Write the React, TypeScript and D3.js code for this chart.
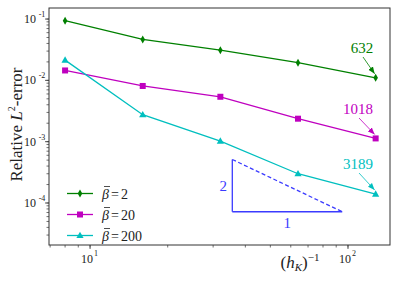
import React from "react";
import * as d3 from "d3";

const hInv = [8, 16, 32, 64, 128];
const errBeta2 = [0.094, 0.0465, 0.031, 0.0194, 0.011];
const errBeta20 = [0.0145, 0.0081, 0.0054, 0.00237, 0.00113];
const errBeta200 = [0.0214, 0.00275, 0.00102, 0.0003, 0.00014];
const seriesNames = ["2", "20", "200"];
const annotations = ["632", "1018", "3189"];
const triX = [35.6, 95];
const triYBottom = 0.000072;
const triSlope = 2;

const W = 399, H = 285;
const M = { left: 49, right: 390, top: 8, bottom: 245 };
const SERIF = "'Liberation Serif', 'Times New Roman', 'DejaVu Serif', serif";

export default function App() {
  const x = d3.scaleLog().domain([6.93, 145.5]).range([M.left, M.right]);
  const y = d3.scaleLog().domain([10 ** -4.685, 10 ** -0.82]).range([M.bottom, M.top]);
  const series = [
    { vals: errBeta2, color: "#008000", marker: "diamond" },
    { vals: errBeta20, color: "#bf00bf", marker: "square" },
    { vals: errBeta200, color: "#00bfbf", marker: "triangle" },
  ];
  const line = d3.line<number>().x((_, i) => x(hInv[i])).y((d) => y(d));
  const marker = (type: string, cx: number, cy: number, color: string, key: any) => {
    if (type === "diamond")
      return <path key={key} d={`M${cx},${cy - 4} L${cx + 2.3},${cy} L${cx},${cy + 4} L${cx - 2.3},${cy} Z`} fill={color} />;
    if (type === "square")
      return <rect key={key} x={cx - 3} y={cy - 3} width={6} height={6} fill={color} />;
    return <path key={key} d={`M${cx},${cy - 3.8} L${cx + 3.6},${cy + 2.6} L${cx - 3.6},${cy + 2.6} Z`} fill={color} />;
  };

  const xMinor: number[] = [];
  for (const dec of [1, 10, 100]) for (let k = 1; k <= 9; k++) { const v = k * dec; if (v >= 6.93 && v <= 145.5) xMinor.push(v); }
  const yMinor: number[] = [];
  for (const dec of [1e-5, 1e-4, 1e-3, 1e-2, 1e-1]) for (let k = 1; k <= 9; k++) { const v = k * dec; if (v >= 10 ** -4.685 && v <= 10 ** -0.82) yMinor.push(v); }
  const xMajor = [10, 100];
  const yMajor = [1e-4, 1e-3, 1e-2, 1e-1];
  const yExp = ["-4", "-3", "-2", "-1"];
  const xExp = ["1", "2"];

  const ty0 = y(triYBottom);
  const ty1 = y(triYBottom * (triX[1] / triX[0]) ** triSlope);
  const tx0 = x(triX[0]), tx1 = x(triX[1]);

  const lastIdx = hInv.length - 1;
  const annPos = [
    { tx: 362, ty: 53 },
    { tx: 358, ty: 114 },
    { tx: 358, ty: 169 },
  ];

  return (
    <svg width={W} height={H} style={{ position: "absolute", left: 0, top: 0, fontFamily: SERIF }}>
      <defs>
        {series.map((s, i) => (
          <marker key={i} id={`arr${i}`} viewBox="0 0 10 10" refX="10" refY="5" markerWidth="7" markerHeight="7" markerUnits="userSpaceOnUse" orient="auto">
            <path d="M0,1 L10,5 L0,9 Z" fill={s.color} />
          </marker>
        ))}
      </defs>
      <rect x={0} y={0} width={W} height={H} fill="white" />
      {series.map((s, i) => (
        <g key={i}>
          <path d={line(s.vals) || ""} fill="none" stroke={s.color} strokeWidth={1.3} />
          {s.vals.map((v, j) => marker(s.marker, x(hInv[j]), y(v), s.color, j))}
        </g>
      ))}
      {series.map((s, i) => {
        const px = x(hInv[lastIdx]), py = y(s.vals[lastIdx]);
        const a = annPos[i];
        return (
          <g key={i}>
            <text x={a.tx} y={a.ty} textAnchor="middle" fontSize={15} fill={s.color}>{annotations[i]}</text>
            <line x1={a.tx + 1} y1={a.ty + 4} x2={px - 1} y2={py - 4} stroke={s.color} strokeWidth={0.8} markerEnd={`url(#arr${i})`} />
          </g>
        );
      })}
      <g stroke="#3b3bff" strokeWidth={1.3} fill="none">
        <line x1={tx0} y1={ty1} x2={tx0} y2={ty0} />
        <line x1={tx0} y1={ty0} x2={tx1} y2={ty0} />
        <line x1={tx0} y1={ty1} x2={tx1} y2={ty0} strokeDasharray="4,2.5" />
      </g>
      <text x={tx0 - 9} y={(ty0 + ty1) / 2 + 5} textAnchor="middle" fontSize={15} fill="#3b3bff">2</text>
      <text x={(tx0 + tx1) / 2} y={ty0 + 16} textAnchor="middle" fontSize={15} fill="#3b3bff">1</text>
      <rect x={M.left} y={M.top} width={M.right - M.left} height={M.bottom - M.top} fill="none" stroke="#333" strokeWidth={1} />
      {xMinor.map((v, i) => (
        <line key={i} x1={x(v)} x2={x(v)} y1={M.bottom} y2={M.bottom + 2.5} stroke="#333" strokeWidth={0.7} />
      ))}
      {xMajor.map((v, i) => (
        <g key={i}>
          <line x1={x(v)} x2={x(v)} y1={M.bottom} y2={M.bottom + 4} stroke="#333" strokeWidth={0.8} />
          <text x={x(v) - 3} y={M.bottom + 18} textAnchor="middle" fontSize={12} fill="#222">10</text>
          <text x={x(v) + 6} y={M.bottom + 11} textAnchor="middle" fontSize={8} fill="#222">{xExp[i]}</text>
        </g>
      ))}
      {yMinor.map((v, i) => (
        <line key={i} x1={M.left - 2.5} x2={M.left} y1={y(v)} y2={y(v)} stroke="#333" strokeWidth={0.7} />
      ))}
      {yMajor.map((v, i) => (
        <g key={i}>
          <line x1={M.left - 4} x2={M.left} y1={y(v)} y2={y(v)} stroke="#333" strokeWidth={0.8} />
          <text x={M.left - 19} y={y(v) + 4} textAnchor="middle" fontSize={12} fill="#222">10</text>
          <text x={M.left - 7} y={y(v) - 2} textAnchor="middle" fontSize={8} fill="#222">{yExp[i]}</text>
        </g>
      ))}
      <text transform={`translate(22,${(M.top + M.bottom) / 2 - 2}) rotate(-90)`} textAnchor="middle" fontSize={17} fill="#222">
        Relative <tspan fontStyle="italic">L</tspan><tspan fontSize={10} dy={-7}>2</tspan><tspan dy={7}>-error</tspan>
      </text>
      <text x={300} y={268} textAnchor="middle" fontSize={17} fill="#222">
        (<tspan fontStyle="italic">h</tspan><tspan fontStyle="italic" fontSize={11} dy={3}>K</tspan><tspan dy={-3}>)</tspan><tspan fontSize={11} dy={-7}>−1</tspan>
      </text>
      {series.map((s, i) => {
        const ly = 193.5 + i * 21;
        return (
          <g key={i}>
            <line x1={67} x2={93} y1={ly} y2={ly} stroke={s.color} strokeWidth={1.3} />
            {marker(s.marker, 80, ly, s.color, "m")}
            <text x={102} y={ly + 5} fontSize={14} fill="#222">
              <tspan fontStyle="italic">β</tspan><tspan dx={2}>=</tspan><tspan dx={2}>{seriesNames[i]}</tspan>
            </text>
            <line x1={104} x2={110} y1={ly - 7} y2={ly - 7} stroke="#222" strokeWidth={0.8} />
          </g>
        );
      })}
    </svg>
  );
}
